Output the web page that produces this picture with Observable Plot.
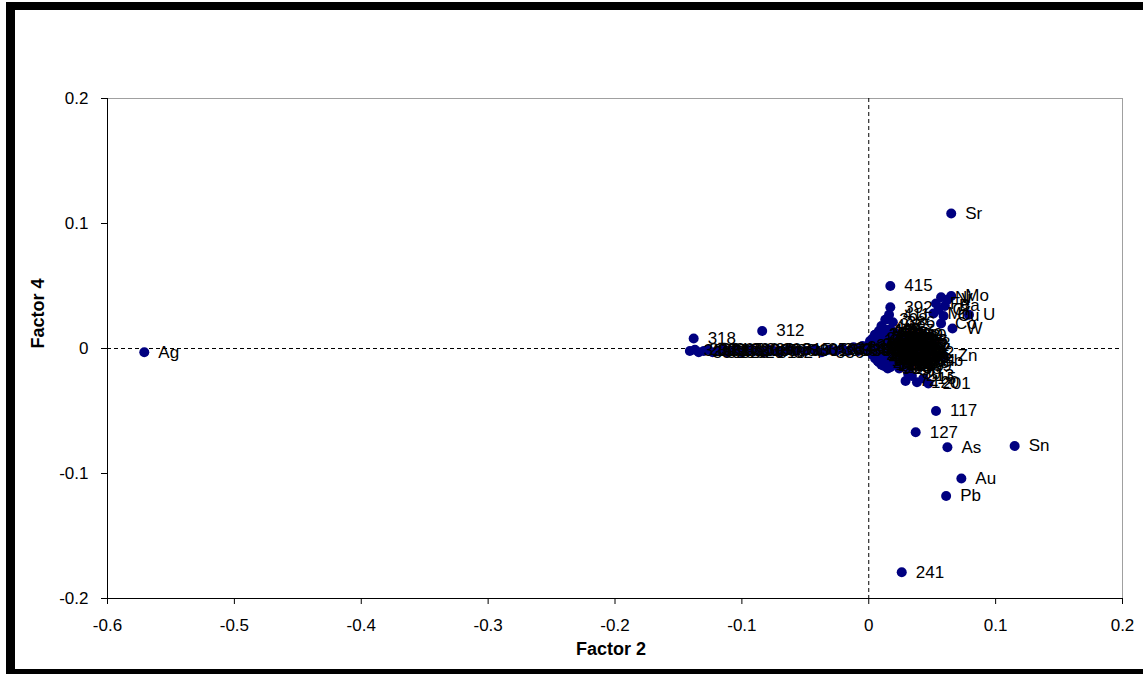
<!DOCTYPE html>
<html><head><meta charset="utf-8">
<script src="https://cdn.jsdelivr.net/npm/d3@7"></script>
<script src="https://cdn.jsdelivr.net/npm/@observablehq/plot@0.6"></script>
<style>
html,body{margin:0;padding:0;background:#fff;}
#wrap{position:relative;width:1143px;height:674px;overflow:hidden;background:#fff;}
.bar{position:absolute;background:#000;}
svg{display:block;}
</style></head><body>
<div id="wrap"></div>
<script>
// Point labels (elements and sample numbers)
const labels = [
  "Ag","Sr","Sn","As","Au","Pb","Zn","Sb","Ni","Mo","Ba","Cr","Fe","Mn","Cu","U","Co","W","V",
  "117","127","241","415","392","312","318",
  "407","398","411","386","402","376",
  "72","213","120","15","201","80",
  "326","203","330","309","321","328","317","305","323","311","320","329","303","399","307","310","302","396","324","315","300","301","350","336","360","355","348","339","365","342","371","357",
  "12","45","88",
  "101","134","156","17","209",
  "233","27","61","178","290","98",
  "142","35","264","51","187","119","246",
  "9","277","64","153","38","222","105","191",
  "14","282","130","77","250","166","43","217",
  "3","196","59","271","110","238","84","145","29",
  "255","21","174","93","226","6","138","260","115",
  "48","184","270","33","160","205","70","244",
  "125","56","230","197","11","181","289",
  "67","149","40","257","102","219",
  "24","171","86","248",
  "19","81","162","273","5","147","236","92","31","188","254","69","128","207","44","173","262","99","16",
  "140","231","75","198","53","268","112","37","284","159","26","242","90","131","279","62","214","8","176"
];
const factor2 = [
  -0.571,0.065,0.115,0.062,0.073,0.061,0.059,0.047,0.057,0.065,0.060,0.055,0.053,0.051,0.059,0.079,0.057,0.066,0.062,
  0.053,0.037,0.026,0.017,0.017,-0.084,-0.138,
  0.010,0.013,0.016,0.019,0.008,0.005,
  0.029,0.034,0.038,0.043,0.047,0.031,
  -0.141,-0.137,-0.134,-0.130,-0.127,-0.123,-0.119,-0.116,-0.112,-0.108,-0.104,-0.100,-0.096,-0.092,-0.088,-0.083,-0.079,-0.075,-0.070,-0.063,-0.057,-0.050,-0.043,-0.037,-0.031,-0.026,-0.021,-0.016,-0.012,-0.008,-0.005,-0.002,
  0.009,0.015,0.020,
  0.005,0.011,0.016,0.021,0.025,
  0.003,0.007,0.012,0.018,0.022,0.027,
  0.001,0.006,0.010,0.014,0.019,0.024,0.029,
  0.000,0.004,0.008,0.012,0.016,0.021,0.025,0.030,
  0.002,0.006,0.011,0.015,0.019,0.023,0.027,0.031,
  0.000,0.004,0.008,0.012,0.016,0.020,0.024,0.028,0.032,
  0.003,0.007,0.011,0.014,0.018,0.022,0.026,0.030,0.033,
  0.005,0.009,0.013,0.017,0.021,0.025,0.029,
  0.008,0.012,0.016,0.020,0.024,0.028,
  0.012,0.017,0.022,0.026,
  0.013,0.018,0.023,0.028,0.009,0.017,0.026,0.031,0.003,0.010,0.018,0.028,0.033,0.006,0.014,0.021,0.030,0.005,0.010,
  0.016,0.024,0.028,0.032,0.007,0.015,0.023,0.027,0.010,0.019,0.026,0.030,0.015,0.024,0.035,0.034,0.035,0.032,0.036
];
const factor4 = [
  -0.003,0.108,-0.078,-0.079,-0.104,-0.118,-0.006,-0.010,0.041,0.042,0.034,0.031,0.036,0.028,0.026,0.027,0.020,0.016,0.039,
  -0.050,-0.067,-0.179,0.050,0.033,0.014,0.008,
  0.018,0.023,0.027,0.021,0.014,0.011,
  -0.026,-0.022,-0.027,-0.024,-0.028,-0.020,
  -0.002,-0.001,-0.003,-0.002,-0.001,-0.003,-0.002,-0.001,-0.003,-0.002,-0.001,-0.003,-0.002,-0.001,-0.002,-0.003,-0.001,-0.002,-0.003,-0.001,-0.002,-0.002,-0.001,-0.003,-0.001,-0.002,0.000,-0.002,0.001,-0.002,0.002,-0.001,
  0.014,0.015,0.013,
  0.011,0.012,0.011,0.012,0.011,
  0.008,0.009,0.009,0.008,0.009,0.008,
  0.006,0.006,0.007,0.005,0.006,0.005,0.006,
  0.003,0.002,0.004,0.003,0.002,0.003,0.004,0.002,
  0.000,0.001,0.000,0.001,-0.001,0.000,0.001,-0.001,
  -0.002,-0.003,-0.002,-0.003,-0.002,-0.004,-0.002,-0.003,-0.002,
  -0.005,-0.006,-0.005,-0.007,-0.005,-0.006,-0.005,-0.007,-0.005,
  -0.008,-0.009,-0.008,-0.010,-0.008,-0.009,-0.008,
  -0.011,-0.012,-0.011,-0.012,-0.011,-0.012,
  -0.014,-0.015,-0.013,-0.014,
  0.0135,0.014,0.010,0.010,0.005,0.007,0.007,0.004,0.004,0.002,0.003,0.000,0.001,-0.001,-0.001,-0.002,-0.004,-0.004,-0.007,
  -0.006,-0.007,-0.006,-0.008,-0.010,-0.009,-0.010,-0.010,-0.013,-0.013,-0.012,-0.011,-0.016,-0.016,-0.003,0.003,-0.010,-0.014,0.006
];
const xTicks = [-0.6,-0.5,-0.4,-0.3,-0.2,-0.1,0,0.1,0.2];
const yTicks = [-0.2,-0.1,0,0.1,0.2];
const xTitle = "Factor 2";
const yTitle = "Factor 4";

const data = labels.map((l, i) => ({label: l, f2: factor2[i], f4: factor4[i]}));
const fmt = d => String(d);

const chart = Plot.plot({
  width: 1143,
  height: 674,
  marginLeft: 107,
  marginRight: 21,
  marginTop: 98,
  marginBottom: 76,
  style: {fontFamily: "'Liberation Sans', Arial, sans-serif", background: "transparent", color: "#000"},
  x: {domain: [-0.6, 0.2]},
  y: {domain: [-0.2, 0.2]},
  marks: [
    Plot.frame({stroke: "#a0a0a0"}),
    Plot.ruleX([0], {stroke: "#000", strokeDasharray: "4,3", strokeWidth: 1}),
    Plot.ruleY([0], {stroke: "#000", strokeDasharray: "4,3", strokeWidth: 1}),
    Plot.ruleX([-0.6], {stroke: "#000", strokeWidth: 1}),
    Plot.ruleY([-0.2], {stroke: "#000", strokeWidth: 1}),
    Plot.axisX({ticks: xTicks, tickFormat: fmt, tickSize: 6, tickPadding: 14, fontSize: 17, label: null, stroke: "#000"}),
    Plot.axisY({ticks: yTicks, tickFormat: fmt, tickSize: 6, tickPadding: 13, fontSize: 17, label: null, stroke: "#000"}),
    Plot.dot(data, {x: "f2", y: "f4", r: 5, fill: "#000080", stroke: "none"}),
    Plot.text(data, {x: "f2", y: "f4", text: "label", dx: 14, textAnchor: "start", fontSize: 17, fill: "#000"}),
    Plot.text([xTitle], {frameAnchor: "bottom", dx: -4, dy: 56, fontSize: 18, fontWeight: "bold", fill: "#000"}),
    Plot.text([yTitle], {frameAnchor: "left", dx: -69, rotate: -90, fontSize: 18, fontWeight: "bold", fill: "#000"})
  ]
});

const wrap = document.getElementById("wrap");
wrap.appendChild(chart);
function bar(l, t, w, h) {
  const d = document.createElement("div");
  d.className = "bar";
  d.style.left = l + "px"; d.style.top = t + "px";
  d.style.width = w + "px"; d.style.height = h + "px";
  wrap.appendChild(d);
}
bar(6, 2, 1137, 8);
bar(6, 2, 9, 672);
bar(6, 669, 1137, 5);
</script>
</body></html>
